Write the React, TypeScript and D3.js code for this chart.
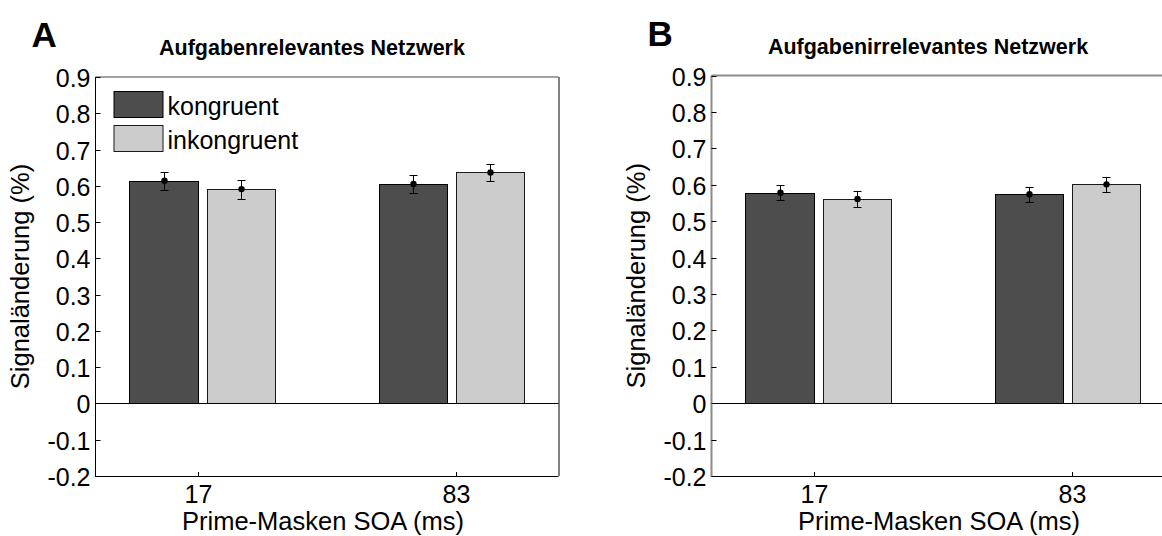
import React from "react";
import * as d3 from "d3";

// Conditions on the x axis (prime-mask SOA in ms)
const categories = ["17", "83"];
const seriesNames = ["kongruent", "inkongruent"];
const seriesFills = ["#4d4d4d", "#cccccc"];
const seriesEdges = ["#000000", "#1a1a1a"];
const yTicks = [-0.2, -0.1, 0, 0.1, 0.2, 0.3, 0.4, 0.5, 0.6, 0.7, 0.8, 0.9];

// Task-relevant network: mean signal change and standard error
const relevantKongruent = [0.614, 0.605];
const relevantInkongruent = [0.591, 0.637];
const relevantKongruentErr = [0.025, 0.024];
const relevantInkongruentErr = [0.026, 0.023];

// Task-irrelevant network
const irrelevantKongruent = [0.578, 0.574];
const irrelevantInkongruent = [0.561, 0.601];
const irrelevantKongruentErr = [0.021, 0.021];
const irrelevantInkongruentErr = [0.021, 0.021];

// Bar layout in x data units (categories sit at 1, 2)
const X_DOMAIN: [number, number] = [0.6, 2.4];
const GROUP_SHIFT = [0.015, -0.016];
const BAR_OFFSETS = [-0.15, 0.15];
const BAR_WIDTH = 0.266;

const FONT = "'Liberation Sans', Arial, Helvetica, sans-serif";

type PanelProps = {
  letter: string;
  title: string;
  left: number;
  top: number;
  bottom: number;
  width: number;
  values: number[][];
  errors: number[][];
  showLegend: boolean;
  leftAxisColor: string;
  leftAxisWidth: number;
  topAxisColor: string;
  topAxisWidth: number;
};

const fmt = (v: number) => (Math.abs(v) < 1e-9 ? "0" : v.toFixed(1));

function Panel(p: PanelProps) {
  const right = p.left + p.width;
  const x = d3.scaleLinear().domain(X_DOMAIN).range([p.left, right]);
  const y = d3.scaleLinear().domain([-0.2, 0.9]).range([p.bottom, p.top]);
  const cx = (p.left + right) / 2;
  const y0 = Math.round(y(0)) + 0.5;

  return (
    <g>
      {/* panel letter */}
      <text x={p.left - 64} y={p.top - 30} fontFamily={FONT} fontWeight="bold" fontSize={35} fill="#000">
        {p.letter}
      </text>
      {/* title */}
      <text x={cx - 15} y={p.top - 22} textAnchor="middle" fontFamily={FONT} fontWeight="bold" fontSize={21.5} fill="#000">
        {p.title}
      </text>

      {/* bars */}
      {p.values.map((series, s) =>
        series.map((v, i) => {
          const c = i + 1 + GROUP_SHIFT[i] + BAR_OFFSETS[s];
          const x1 = Math.round(x(c - BAR_WIDTH / 2)) + 0.5;
          const x2 = Math.round(x(c + BAR_WIDTH / 2)) + 0.5;
          const yt = Math.round(y(v)) + 0.5;
          return (
            <rect
              key={`b${s}-${i}`}
              x={x1}
              y={yt}
              width={x2 - x1}
              height={y0 - yt}
              fill={seriesFills[s]}
              stroke={seriesEdges[s]}
              strokeWidth={1}
            />
          );
        })
      )}

      {/* zero baseline */}
      <line x1={p.left} x2={right} y1={y0} y2={y0} stroke="#000" strokeWidth={1} />

      {/* error bars with mean markers */}
      {p.values.map((series, s) =>
        series.map((v, i) => {
          const c = i + 1 + GROUP_SHIFT[i] + BAR_OFFSETS[s];
          const xc = Math.round(x(c)) + 0.5;
          const e = p.errors[s][i];
          const yHi = Math.round(y(v + e)) + 0.5;
          const yLo = Math.round(y(v - e)) + 0.5;
          return (
            <g key={`e${s}-${i}`} stroke="#000" strokeWidth={1}>
              <line x1={xc} x2={xc} y1={yHi} y2={yLo} />
              <line x1={xc - 4} x2={xc + 4} y1={yHi} y2={yHi} />
              <line x1={xc - 4} x2={xc + 4} y1={yLo} y2={yLo} />
              <circle cx={xc} cy={y(v)} r={3.2} fill="#000" stroke="none" />
            </g>
          );
        })
      )}

      {/* axes box */}
      <line x1={p.left} x2={right} y1={p.top} y2={p.top} stroke={p.topAxisColor} strokeWidth={p.topAxisWidth} />
      <line x1={right + 0.5} x2={right + 0.5} y1={p.top} y2={p.bottom} stroke="#000" strokeWidth={1} />
      <line x1={p.left} x2={right} y1={p.bottom + 0.5} y2={p.bottom + 0.5} stroke="#000" strokeWidth={1} />
      <line x1={p.left} x2={p.left} y1={p.top} y2={p.bottom + 1} stroke={p.leftAxisColor} strokeWidth={p.leftAxisWidth} />

      {/* y ticks and labels */}
      {yTicks.map((t) => {
        const yy = Math.round(y(t)) + 0.5;
        return (
          <g key={`yt${t}`}>
            <line x1={p.left} x2={p.left + 5} y1={yy} y2={yy} stroke="#000" strokeWidth={1} />
            <text x={p.left - 5} y={yy + 9} textAnchor="end" fontFamily={FONT} fontSize={25} fill="#000">
              {fmt(t)}
            </text>
          </g>
        );
      })}

      {/* x ticks and labels */}
      {categories.map((cat, i) => {
        const xx = Math.round(x(i + 1)) + 0.5;
        return (
          <g key={`xt${cat}`}>
            <line x1={xx} x2={xx} y1={p.bottom} y2={p.bottom - 4} stroke="#000" strokeWidth={1} />
            <text x={xx} y={p.bottom + 27} textAnchor="middle" fontFamily={FONT} fontSize={25} fill="#000">
              {cat}
            </text>
          </g>
        );
      })}

      {/* axis labels */}
      <text x={cx - 4} y={p.bottom + 53.5} textAnchor="middle" fontFamily={FONT} fontSize={25.5} fill="#000">
        Prime-Masken SOA (ms)
      </text>
      <text
        transform={`translate(${p.left - 66.5},${(p.top + p.bottom) / 2}) rotate(-90)`}
        textAnchor="middle"
        fontFamily={FONT}
        fontSize={25.5}
        fill="#000"
      >
        Signaländerung (%)
      </text>

      {/* legend */}
      {p.showLegend &&
        seriesNames.map((name, s) => {
          const ly = p.top + 14 + s * 34;
          return (
            <g key={`lg${s}`}>
              <rect
                x={p.left + 18.5}
                y={ly + 0.5}
                width={49}
                height={26}
                fill={seriesFills[s]}
                stroke={seriesEdges[s]}
                strokeWidth={1}
              />
              <text x={p.left + 72} y={ly + 23.5} fontFamily={FONT} fontSize={25} fill="#000">
                {name}
              </text>
            </g>
          );
        })}
    </g>
  );
}

export default function App() {
  return (
    <svg
      width={1162}
      height={536}
      viewBox="0 0 1162 536"
      style={{ position: "absolute", left: 0, top: 0, background: "#fff", display: "block" }}
    >
      <rect x={0} y={0} width={1162} height={536} fill="#fff" />
      <Panel
        letter="A"
        title="Aufgabenrelevantes Netzwerk"
        left={95.5}
        top={77}
        bottom={476}
        width={463}
        values={[relevantKongruent, relevantInkongruent]}
        errors={[relevantKongruentErr, relevantInkongruentErr]}
        showLegend={true}
        leftAxisColor="#000"
        leftAxisWidth={1}
        topAxisColor="#444"
        topAxisWidth={1}
      />
      <Panel
        letter="B"
        title="Aufgabenirrelevantes Netzwerk"
        left={711.5}
        top={75.5}
        bottom={476}
        width={463}
        values={[irrelevantKongruent, irrelevantInkongruent]}
        errors={[irrelevantKongruentErr, irrelevantInkongruentErr]}
        showLegend={false}
        leftAxisColor="#8a8a8a"
        leftAxisWidth={2}
        topAxisColor="#8a8a8a"
        topAxisWidth={2}
      />
    </svg>
  );
}
